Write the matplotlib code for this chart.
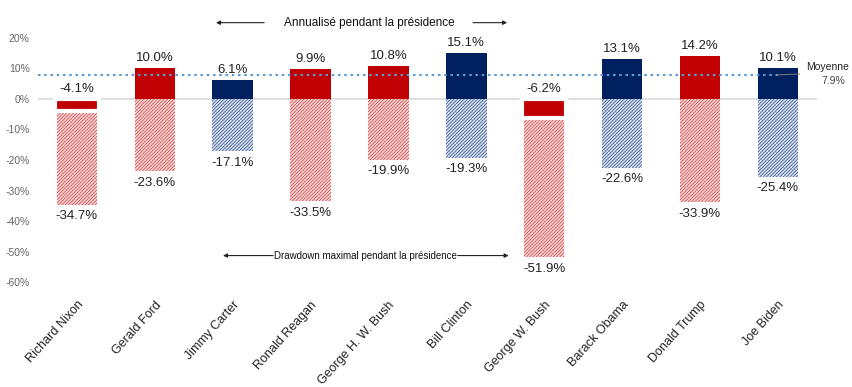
import matplotlib.pyplot as plt
import matplotlib as mpl
import numpy as np

presidents = ["Richard Nixon", "Gerald Ford", "Jimmy Carter", "Ronald Reagan",
              "George H. W. Bush", "Bill Clinton", "George W. Bush", "Barack Obama",
              "Donald Trump", "Joe Biden"]
party = ["R", "R", "D", "R", "R", "D", "R", "D", "R", "D"]
annualized = [-4.1, 10.0, 6.1, 9.9, 10.8, 15.1, -6.2, 13.1, 14.2, 10.1]
drawdown = [-34.7, -23.6, -17.1, -33.5, -19.9, -19.3, -51.9, -22.6, -33.9, -25.4]
average = 7.9
yticks = [20, 10, 0, -10, -20, -30, -40, -50, -60]

plt.rcParams['font.family'] = ['Liberation Sans', 'DejaVu Sans']
mpl.rcParams['hatch.linewidth'] = 0.5

RED = "#C00000"
NAVY = "#002060"
RED_HATCH = "#D42A2A"
NAVY_HATCH = "#2A4A85"
RED_LIGHT = "#F9DCDC"
NAVY_LIGHT = "#D6DFEE"

fig = plt.figure(figsize=(8.53, 3.87), dpi=100)
ax = fig.add_axes([0.0445, 0.271, 0.913, 0.631])

x = np.arange(len(presidents))
w = 0.52
for i in range(len(presidents)):
    dark = RED if party[i] == "R" else NAVY
    hcol = RED_HATCH if party[i] == "R" else NAVY_HATCH
    light = RED_LIGHT if party[i] == "R" else NAVY_LIGHT
    ax.bar(x[i], drawdown[i], width=w, color=light, edgecolor=hcol, hatch="//////////",
           linewidth=0, zorder=2)
    if annualized[i] < 0:
        ax.bar(x[i], annualized[i], width=w + 0.052, color=dark, edgecolor="white",
               linewidth=3, zorder=3)
    else:
        ax.bar(x[i], annualized[i], width=w, color=dark, linewidth=0, zorder=3)
    top = max(annualized[i], 0)
    ax.text(x[i], top + 1.3, f"{annualized[i]:.1f}%", ha="center", va="bottom",
            fontsize=9.5, color="#222222", zorder=5)
    ax.text(x[i], drawdown[i] - 1.8, f"{drawdown[i]:.1f}%", ha="center", va="top",
            fontsize=9.5, color="#222222", zorder=5)

ax.axhline(0, color="#D9D9D9", linewidth=1.2, zorder=1)
ax.plot([-0.5, 9.0], [average, average], color="#5B9BD5", linestyle=(0, (1.2, 1.8)),
        linewidth=1.5, zorder=4)
ax.plot([9.0, 9.28], [average, average + 0.3], color="#7F7F7F", linewidth=0.7,
        zorder=4, clip_on=False)
ax.text(9.36, 10.5, "Moyenne", fontsize=7.5, ha="left", va="center",
        color="#222222", clip_on=False)
ax.text(9.86, 5.9, f"{average:.1f}%", fontsize=7.5, ha="right", va="center",
        color="#444444", clip_on=False)

ax.set_xlim(-0.5, 9.5)
ax.set_ylim(-60, 20)
ax.set_yticks(yticks)
ax.set_yticklabels([f"{v}%" for v in yticks], fontsize=7.5, color="#666666")
ax.set_xticks(x)
ax.set_xticklabels(presidents, rotation=48, ha="right", rotation_mode="anchor",
                   fontsize=9, color="#222222")
ax.tick_params(axis="x", length=0, pad=12)
ax.tick_params(axis="y", length=0, pad=6)
for s in ax.spines.values():
    s.set_visible(False)

# top annotation
ax.text(3.76, 25.0, "Annualisé pendant la présidence", ha="center", va="center",
        fontsize=8.5, color="#111111", clip_on=False)
ax.annotate("", xy=(1.75, 25.0), xytext=(2.44, 25.0),
            arrowprops=dict(arrowstyle="-|>", color="#222222", lw=0.8,
                            mutation_scale=6), annotation_clip=False)
ax.annotate("", xy=(5.56, 25.0), xytext=(5.05, 25.0),
            arrowprops=dict(arrowstyle="-|>", color="#222222", lw=0.8,
                            mutation_scale=6), annotation_clip=False)

# bottom annotation
ax.text(3.7, -51.3, "Drawdown maximal pendant la présidence", ha="center", va="center",
        fontsize=7, color="#111111")
ax.annotate("", xy=(1.84, -51.3), xytext=(2.52, -51.3),
            arrowprops=dict(arrowstyle="-|>", color="#222222", lw=0.8,
                            mutation_scale=6, shrinkA=0))
ax.annotate("", xy=(5.58, -51.3), xytext=(4.89, -51.3),
            arrowprops=dict(arrowstyle="-|>", color="#222222", lw=0.8,
                            mutation_scale=6, shrinkA=0))

fig.savefig("out.png", dpi=100)
